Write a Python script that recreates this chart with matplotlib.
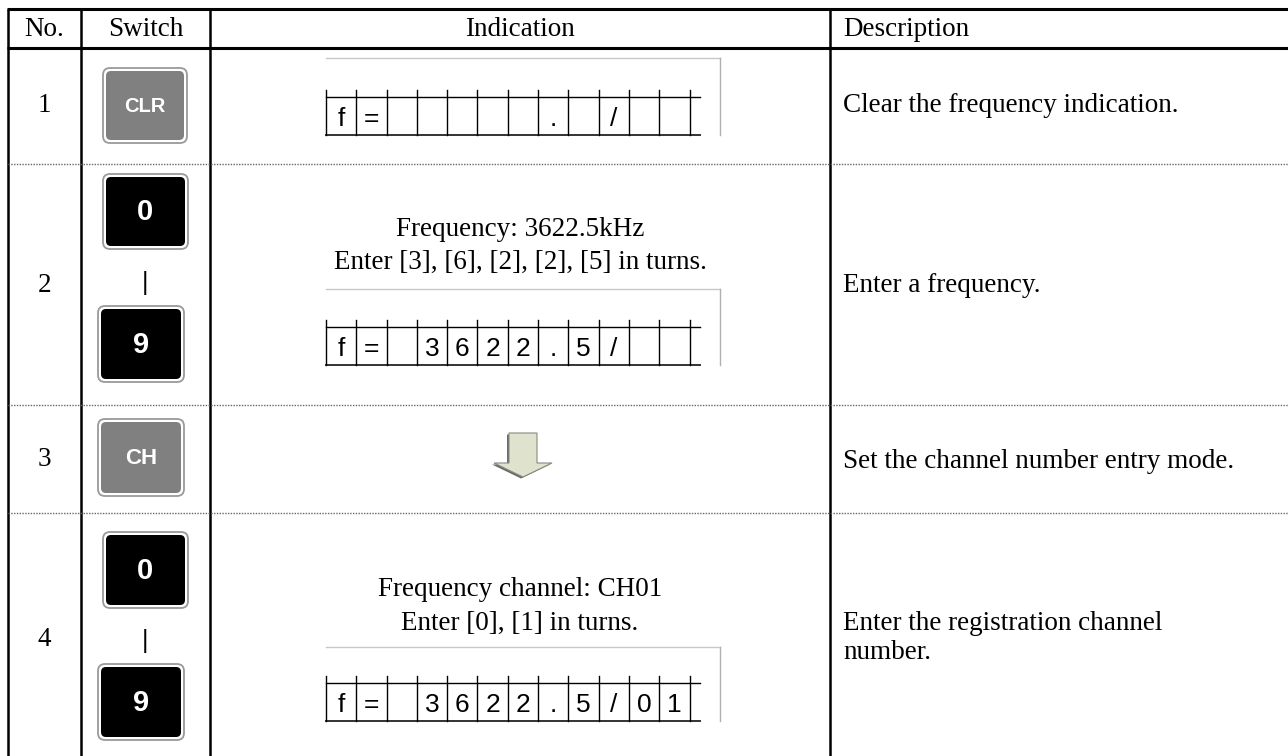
"""Operation table: frequency / channel entry steps, drawn on a pixel grid."""

import matplotlib
matplotlib.use("Agg")
import matplotlib.pyplot as plt
from matplotlib.patches import FancyBboxPatch, Polygon

# ---- table content -------------------------------------------------------
headers = ["No.", "Switch", "Indication", "Description"]
row_numbers = ["1", "2", "3", "4"]
descriptions = [
    "Clear the frequency indication.",
    "Enter a frequency.",
    "Set the channel number entry mode.",
    "Enter the registration channel\nnumber.",
]
indication_texts = [
    None,
    "Frequency: 3622.5kHz\nEnter [3], [6], [2], [2], [5] in turns.",
    None,
    "Frequency channel: CH01\nEnter [0], [1] in turns.",
]
display_row1 = ["f", "=", "", "", "", "", "", ".", "", "/", "", "", ""]
display_row2 = ["f", "=", "", "3", "6", "2", "2", ".", "5", "/", "", "", ""]
display_row4 = ["f", "=", "", "3", "6", "2", "2", ".", "5", "/", "0", "1", ""]

# ---- layout (pixels, y downward) -----------------------------------------
W, H = 1288, 756
COL_X = [8, 81, 210, 830]
TOP_Y, HEAD_Y = 9, 47.5
ROW_Y = [164, 405, 513]          # dotted separators
SERIF = ["Liberation Serif", "DejaVu Serif"]
SANS = ["Liberation Sans", "DejaVu Sans"]
TXT = 19.5                       # pt

fig = plt.figure(figsize=(W / 100, H / 100), dpi=100, facecolor="white")
ax = fig.add_axes([0, 0, 1, 1])
ax.set_xlim(0, W)
ax.set_ylim(H, 0)
ax.axis("off")

# grid lines
for y in (TOP_Y, HEAD_Y):
    ax.plot([COL_X[0] - 1, W], [y, y], color="black", lw=2.2, solid_capstyle="butt")
for x in COL_X:
    ax.plot([x, x], [TOP_Y, H], color="black", lw=1.8, solid_capstyle="butt")
for y in ROW_Y:
    ax.plot([COL_X[0], W], [y, y], color="#666666", lw=1.0, ls=(0, (1, 1)))

# header
ax.text((COL_X[0] + COL_X[1]) / 2, 29, headers[0], ha="center", va="center", family=SERIF, fontsize=TXT)
ax.text((COL_X[1] + COL_X[2]) / 2, 29, headers[1], ha="center", va="center", family=SERIF, fontsize=TXT)
ax.text((COL_X[2] + COL_X[3]) / 2, 29, headers[2], ha="center", va="center", family=SERIF, fontsize=TXT)
ax.text(COL_X[3] + 13, 29, headers[3], ha="left", va="center", family=SERIF, fontsize=TXT)

row_centers = [106, 285, 459, 640]
desc_y = [106, 285, 461, 638]
for num, desc, yc, yd in zip(row_numbers, descriptions, row_centers, desc_y):
    ax.text((COL_X[0] + COL_X[1]) / 2, yc, num, ha="center", va="center", family=SERIF, fontsize=TXT)
    ax.text(COL_X[3] + 13, yd, desc, ha="left", va="center", family=SERIF, fontsize=TXT,
            linespacing=1.25)


def button(x, y, w, h, label, face, size):
    outer = FancyBboxPatch((x, y), w, h, boxstyle="round,pad=0,rounding_size=7",
                           facecolor="white", edgecolor="#9a9a9a", lw=1.3)
    inner = FancyBboxPatch((x + 3, y + 3), w - 6, h - 6, boxstyle="round,pad=0,rounding_size=5",
                           facecolor=face, edgecolor="none")
    ax.add_patch(outer)
    ax.add_patch(inner)
    ax.text(x + w / 2, y + h / 2 + 1, label, ha="center", va="center", color="white",
            family=SANS, fontweight="bold", fontsize=size)


button(103, 68, 84, 75, "CLR", "#808080", 14.5)
button(103, 174, 85, 75, "0", "black", 21)
ax.text(145, 283, "|", ha="center", va="center", family=SANS, fontsize=18)
button(98, 306, 86, 76, "9", "black", 21)
button(98, 419, 86, 77, "CH", "#808080", 16)
button(103, 532, 85, 76, "0", "black", 21)
ax.text(145, 641, "|", ha="center", va="center", family=SANS, fontsize=18)
button(98, 664, 86, 76, "9", "black", 21)


def display(chars, gray_top, cell_top):
    x0, cw, x_end, x_frame = 326, 30.3, 700, 720
    bottom = cell_top + 37.5
    ax.plot([x0, x_frame], [gray_top, gray_top], color="#c8c8c8", lw=1.0)
    ax.plot([x_frame, x_frame], [gray_top, bottom], color="#b0b0b0", lw=1.0)
    ax.plot([x0, x_end], [cell_top, cell_top], color="black", lw=1.0)
    ax.plot([x0, x_end], [bottom, bottom], color="#333333", lw=1.4)
    for i in range(len(chars)):
        xl = x0 + i * cw
        ax.plot([xl, xl], [cell_top - 7, bottom], color="black", lw=1.0)
        if chars[i]:
            ax.text(xl + cw / 2, bottom - 8.5, chars[i], ha="center", va="baseline",
                    family=SANS, fontsize=19 if chars[i] != "/" else 19)


display(display_row1, 58, 97)
display(display_row2, 289, 327)
display(display_row4, 647, 683)

ax.text(520, 229, indication_texts[1].split("\n")[0], ha="center", va="center", family=SERIF, fontsize=TXT)
ax.text(520, 262, indication_texts[1].split("\n")[1], ha="center", va="center", family=SERIF, fontsize=TXT)
ax.text(520, 590, indication_texts[3].split("\n")[0], ha="center", va="center", family=SERIF, fontsize=TXT)
ax.text(520, 623, indication_texts[3].split("\n")[1], ha="center", va="center", family=SERIF, fontsize=TXT)

# down arrow
arrow = [(509, 433), (537, 433), (537, 463), (552, 463), (523, 477), (494, 463), (509, 463)]
shadow = [(x - 2, y + 1.5) for x, y in arrow]
ax.add_patch(Polygon(shadow, closed=True, facecolor="#6b6b6b", edgecolor="none"))
ax.add_patch(Polygon(arrow, closed=True, facecolor="#dfe3ce", edgecolor="#8a8a80", lw=0.8))

fig.savefig("out.png", dpi=100, facecolor="white")
